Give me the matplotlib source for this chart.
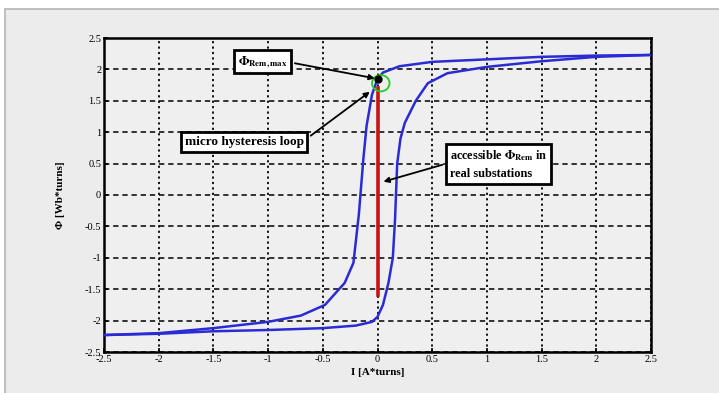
"""
Hysteresis loop chart (Phi vs I)
"""
import matplotlib
matplotlib.use('Agg')
import matplotlib.pyplot as plt
from matplotlib.patches import Rectangle, Ellipse

# descending branch (upper/left)
desc_x = [2.5, 2.0, 1.5, 1.0, 0.5, 0.2, 0.05, 0.0, -0.05, -0.1, -0.13, -0.17,
          -0.22, -0.3, -0.48, -0.7, -1.0, -1.5, -2.0, -2.5]
desc_y = [2.23, 2.22, 2.2, 2.16, 2.12, 2.05, 1.95, 1.85, 1.6, 1.1, 0.56, -0.3,
          -1.08, -1.4, -1.75, -1.92, -2.02, -2.12, -2.2, -2.23]

# ascending branch (lower/right)
asc_x = [-2.5, -2.0, -1.5, -1.0, -0.5, -0.2, -0.05, 0.0, 0.05, 0.1, 0.14, 0.16,
         0.18, 0.21, 0.25, 0.35, 0.46, 0.64, 1.0, 1.5, 2.0, 2.5]
asc_y = [-2.23, -2.21, -2.17, -2.15, -2.12, -2.08, -2.02, -1.94, -1.75, -1.4, -1.0,
         -0.4, 0.5, 0.9, 1.15, 1.5, 1.78, 1.94, 2.04, 2.13, 2.2, 2.23]

# accessible remanent flux (red bar)
red_x = [0.0, 0.0]
red_y = [1.7, -1.6]

# remanent flux point
rem_x = 0.0
rem_y = 1.85

ticks = [-2.5, -2, -1.5, -1, -0.5, 0, 0.5, 1, 1.5, 2, 2.5]
tick_labels = ['-2.5', '-2', '-1.5', '-1', '-0.5', '0', '0.5', '1', '1.5', '2', '2.5']

plt.rcParams['font.family'] = ['Liberation Serif', 'DejaVu Serif']
plt.rcParams['mathtext.fontset'] = 'stix'

fig = plt.figure(figsize=(7.19, 3.93), dpi=100, facecolor='white')
# grey frame of the screenshot
frame = Rectangle((5 / 719, -0.01), 1.0, 1 - 9 / 393 + 0.01,
                  transform=fig.transFigure, facecolor='#ececec',
                  edgecolor='#b5b5b5', lw=1.2, zorder=-10)
fig.add_artist(frame)

ax = fig.add_axes([104 / 719, 1 - 352 / 393, 547 / 719, 314 / 393])
ax.set_zorder(5)
ax.set_facecolor('#efefef')

ax.plot(desc_x, desc_y, color='#2b2bd6', lw=1.8, zorder=3)
ax.plot(asc_x, asc_y, color='#2b2bd6', lw=1.8, zorder=3)
ax.plot(red_x, red_y, color='#c81414', lw=2.6, zorder=4)
ax.add_patch(Ellipse((0.03, 1.78), 0.16, 0.26, fill=False, edgecolor='#22cc22',
                     lw=1.3, zorder=5))
ax.plot(rem_x, rem_y, 'o', color='black', markersize=5, zorder=6)

ax.set_xlim(-2.5, 2.5)
ax.set_ylim(-2.5, 2.5)
ax.set_xticks(ticks)
ax.set_xticklabels(tick_labels)
ax.set_yticks(ticks)
ax.set_yticklabels(tick_labels)
ax.tick_params(labelsize=7.5, length=3, direction='in', width=1.2, pad=2)

ax.grid(True, axis='y', color='black', linestyle=(0, (3.5, 2.5)), lw=1.1)
ax.grid(True, axis='x', color='black', linestyle=(0, (1.2, 1.8)), lw=1.3)
ax.set_axisbelow(True)
for s in ax.spines.values():
    s.set_linewidth(1.8)

ax.set_xlabel('I [A*turns]', fontsize=8, fontweight='bold', labelpad=3)
ax.set_ylabel('Φ [Wb*turns]', fontsize=8, fontweight='bold', labelpad=14)

box = dict(boxstyle='square,pad=0.3', facecolor='white', edgecolor='black', lw=2)

ax.annotate(r'$\mathbf{\Phi_{Rem,max}}$', xy=(rem_x, rem_y), xytext=(-1.05, 2.12),
            fontsize=9, ha='center', va='center', bbox=box, zorder=7,
            arrowprops=dict(arrowstyle='-|>', color='black', lw=1.3,
                            mutation_scale=8, relpos=(1, 0.5)))
ax.annotate('micro hysteresis loop', xy=(-0.05, 1.67), xytext=(-1.22, 0.84),
            fontsize=9.5, fontweight='bold', ha='center', va='center', bbox=box,
            zorder=7, arrowprops=dict(arrowstyle='-|>', color='black', lw=1.3,
                                      mutation_scale=8, relpos=(1, 0.6)))
ax.annotate('accessible $\\mathbf{\\Phi_{Rem}}$ in\nreal substations', xy=(0.03, 0.2),
            xytext=(0.66, 0.49), fontsize=8.8, fontweight='bold', ha='left',
            va='center', bbox=box, zorder=7, linespacing=1.5,
            arrowprops=dict(arrowstyle='-|>', color='black', lw=1.3,
                            mutation_scale=8, relpos=(0, 0.55)))

plt.savefig('out.png', dpi=100, facecolor=fig.get_facecolor())
plt.close()
